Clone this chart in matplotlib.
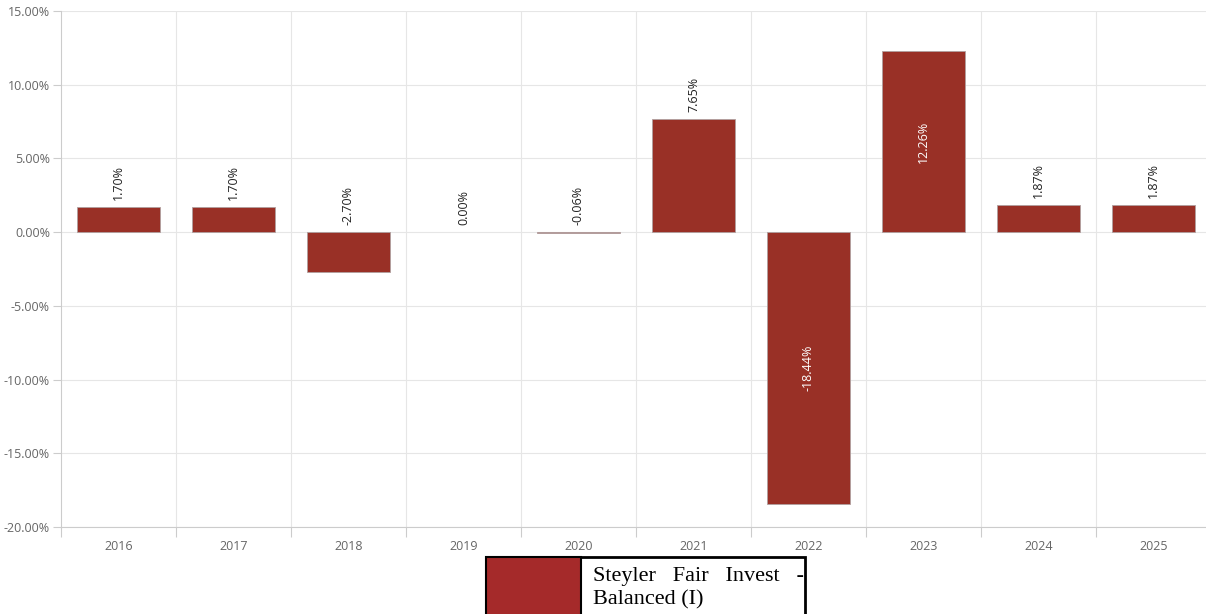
import matplotlib.pyplot as plt
from matplotlib.patches import Rectangle
import numpy as np

# data
years = ["2016", "2017", "2018", "2019", "2020", "2021", "2022", "2023", "2024", "2025"]
returns = [1.70, 1.70, -2.70, 0.00, -0.06, 7.65, -18.44, 12.26, 1.87, 1.87]

W, H = 1206, 614
fig = plt.figure(figsize=(W / 100, H / 100), dpi=100)
ax = fig.add_axes([61 / W, (H - 527) / H, 1150 / W, 516 / H])

x = np.arange(len(years))
lws = [0.6 if v != 0 else 0 for v in returns]
ax.bar(x, returns, width=0.72, color="#993026", edgecolor="#b0a0a0", linewidth=lws, zorder=3)

ax.set_xlim(-0.5, len(years) - 0.5)
ax.set_ylim(-20, 15)
ax.set_yticks(np.arange(-20, 16, 5))
ax.set_yticklabels(["%.2f%%" % v for v in np.arange(-20, 16, 5)])

# grid: horizontal at ticks, vertical at category boundaries
for yv in np.arange(-20, 16, 5):
    ax.axhline(yv, color="#e6e6e6", lw=0.8, zorder=1)
for b in np.arange(0.5, len(years) - 0.5, 1):
    ax.axvline(b, color="#e6e6e6", lw=0.8, zorder=1)

ax.set_xticks(x)
ax.set_xticklabels(years)
ax.set_xticks(np.arange(-0.5, len(years), 1), minor=True)
ax.tick_params(axis="x", which="major", length=0, pad=9, labelsize=9, labelcolor="#666666")
ax.tick_params(axis="x", which="minor", length=7, color="#cccccc", width=0.8)
ax.tick_params(axis="y", length=6, color="#cccccc", width=0.8, labelsize=9, labelcolor="#666666", pad=2)
for lab in ax.get_xticklabels() + ax.get_yticklabels():
    lab.set_fontfamily("Open Sans")

for s in ["top", "right"]:
    ax.spines[s].set_visible(False)
ax.spines["left"].set_color("#cccccc")
ax.spines["bottom"].set_color("#cccccc")
ax.spines["left"].set_linewidth(0.8)
ax.spines["bottom"].set_linewidth(0.8)

# value labels
for xi, v in zip(x, returns):
    txt = "%.2f%%" % v
    if abs(v) > 10:
        ax.text(xi, v / 2, txt, rotation=90, ha="center", va="center",
                color="white", fontsize=9, fontfamily="Open Sans", zorder=4)
    else:
        ax.annotate(txt, (xi, max(v, 0)), xytext=(0, 5), textcoords="offset points",
                    rotation=90, ha="center", va="bottom", color="#222222",
                    fontsize=9, fontfamily="Open Sans", zorder=4)

# legend box drawn by hand
fig.add_artist(Rectangle((486 / W, (H - 620) / H), 319 / W, 63 / H, transform=fig.transFigure,
                         facecolor="white", edgecolor="black", linewidth=2))
fig.add_artist(Rectangle((486 / W, (H - 620) / H), 95 / W, 63 / H, transform=fig.transFigure,
                         facecolor="#a52a2a", edgecolor="black", linewidth=1.5))
fig.text(593 / W, (H - 576) / H, "Steyler   Fair   Invest   -", fontsize=16,
         fontfamily="Liberation Serif", va="center", ha="left")
fig.text(593 / W, (H - 600) / H, "Balanced (I)", fontsize=16,
         fontfamily="Liberation Serif", va="center", ha="left")

fig.savefig("out.png", dpi=100)
